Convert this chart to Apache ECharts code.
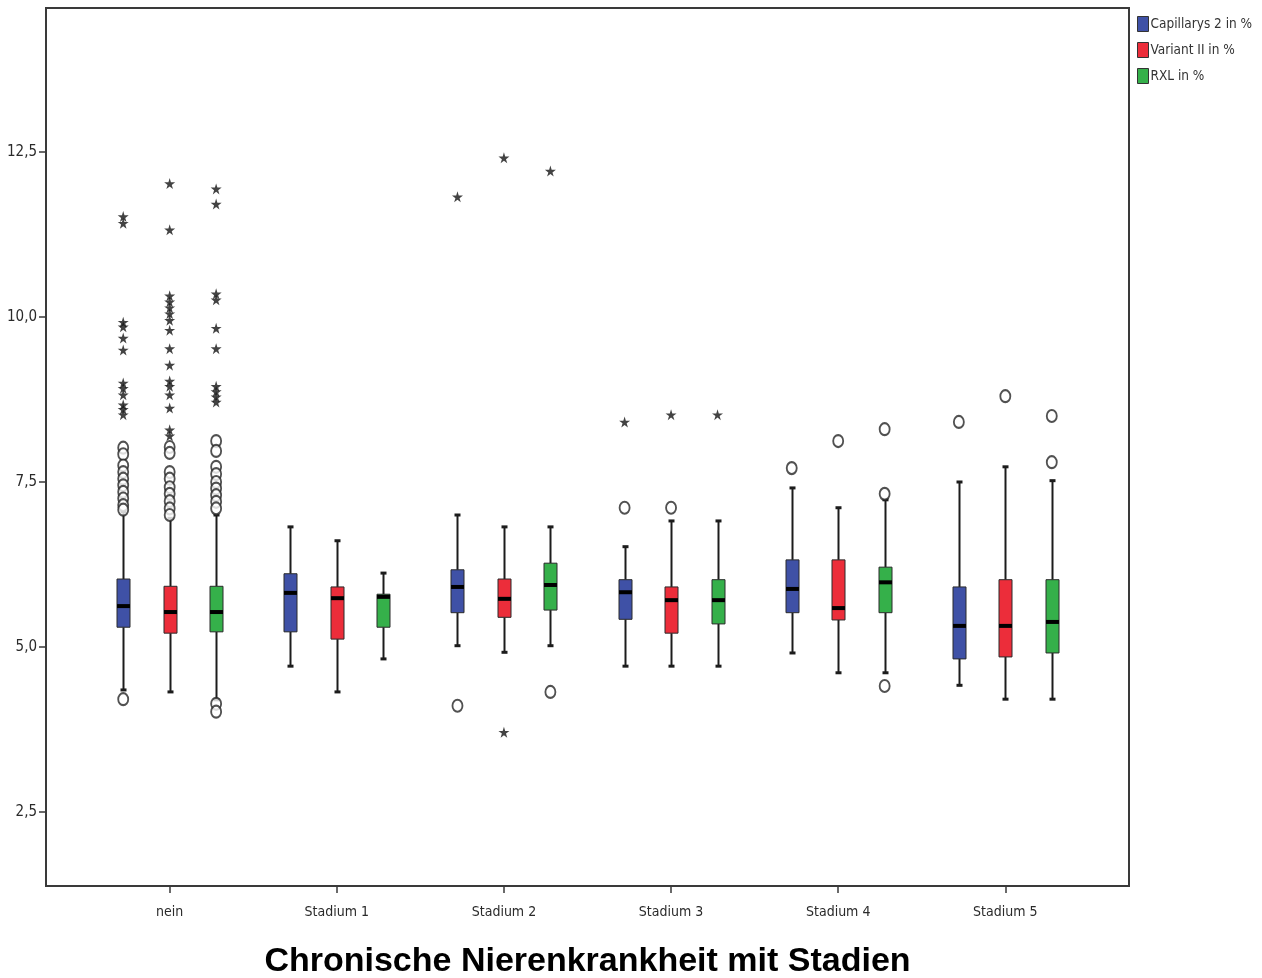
<!DOCTYPE html>
<html>
<head>
<meta charset="utf-8">
<style>
  html, body { margin: 0; padding: 0; background: #fff; }
  #chart { width: 1262px; height: 978px; }
</style>
<script src="https://cdn.jsdelivr.net/npm/echarts@6/dist/echarts.min.js"></script>
</head>
<body>
<div id="chart"></div>
<script>
// Kategorien der x-Achse
const categories = ['nein', 'Stadium 1', 'Stadium 2', 'Stadium 3', 'Stadium 4', 'Stadium 5'];
const seriesNames = ['Capillarys 2 in %', 'Variant II in %', 'RXL in %'];
const yTicks = [2.5, 5.0, 7.5, 10.0, 12.5];

// Boxplot-Kennwerte je Kategorie: [Minimum, Q1, Median, Q3, Maximum]
const capillarys = [
  [4.35, 5.30, 5.62, 6.03, 7.05],
  [4.71, 5.23, 5.82, 6.11, 6.82],
  [5.02, 5.52, 5.91, 6.17, 7.00],
  [4.71, 5.42, 5.83, 6.02, 6.52],
  [4.91, 5.52, 5.88, 6.32, 7.41],
  [4.42, 4.82, 5.32, 5.91, 7.50]
];
const variant = [
  [4.32, 5.21, 5.53, 5.92, 6.95],
  [4.32, 5.12, 5.74, 5.91, 6.61],
  [4.92, 5.45, 5.73, 6.03, 6.82],
  [4.71, 5.21, 5.71, 5.91, 6.91],
  [4.61, 5.41, 5.59, 6.32, 7.11],
  [4.21, 4.85, 5.32, 6.02, 7.73]
];
const rxl = [
  [4.20, 5.23, 5.53, 5.92, 7.00],
  [4.82, 5.30, 5.76, 5.80, 6.12],
  [5.02, 5.56, 5.94, 6.27, 6.82],
  [4.71, 5.35, 5.71, 6.02, 6.91],
  [4.61, 5.52, 5.98, 6.21, 7.23],
  [4.21, 4.91, 5.38, 6.02, 7.52]
];

// Ausreißer (Kreise): [Kategorieindex, Wert]
const capillarysOutliers = [
  [0, 8.02], [0, 7.92], [0, 7.75], [0, 7.65], [0, 7.55], [0, 7.45], [0, 7.35], [0, 7.25], [0, 7.15], [0, 7.08], [0, 4.21],
  [2, 4.11], [3, 7.11], [4, 7.71], [5, 8.41]
];
const variantOutliers = [
  [0, 8.03], [0, 7.94], [0, 7.65], [0, 7.55], [0, 7.42], [0, 7.32], [0, 7.21], [0, 7.10], [0, 7.00],
  [3, 7.11], [4, 8.12], [5, 8.80]
];
const rxlOutliers = [
  [0, 8.12], [0, 7.97], [0, 7.73], [0, 7.62], [0, 7.50], [0, 7.40], [0, 7.30], [0, 7.20], [0, 7.10], [0, 4.14], [0, 4.02],
  [2, 4.32], [4, 8.30], [4, 7.32], [4, 4.41], [5, 8.50], [5, 7.80]
];

// Extremwerte (Sterne): [Kategorieindex, Wert]
const capillarysExtremes = [
  [0, 11.52], [0, 11.42], [0, 9.92], [0, 9.85], [0, 9.68], [0, 9.50], [0, 9.00], [0, 8.92], [0, 8.82], [0, 8.67], [0, 8.60], [0, 8.52],
  [2, 11.82], [3, 8.41]
];
const variantExtremes = [
  [0, 12.02], [0, 11.32], [0, 10.32], [0, 10.23], [0, 10.14], [0, 10.05], [0, 9.95], [0, 9.80], [0, 9.52], [0, 9.27], [0, 9.03], [0, 8.95], [0, 8.82], [0, 8.62], [0, 8.29], [0, 8.20],
  [2, 12.41], [2, 3.71], [3, 8.52]
];
const rxlExtremes = [
  [0, 11.94], [0, 11.71], [0, 10.35], [0, 10.26], [0, 9.83], [0, 9.52], [0, 8.95], [0, 8.87], [0, 8.79], [0, 8.71],
  [2, 12.21], [3, 8.52]
];

// Darstellung
const colors = ['#3f51a6', '#ec2d3a', '#35b04a'];
const groupOffsets = [-0.278, 0, 0.278];
const BOX_HALF = 6.5;
const CAP_HALF = 3;
const narrowFont = '"Liberation Sans Narrow", "DejaVu Sans Condensed", "Arial Narrow", sans-serif';

const boxStats = [capillarys, variant, rxl];
const outlierSets = [capillarysOutliers, variantOutliers, rxlOutliers];
const extremeSets = [capillarysExtremes, variantExtremes, rxlExtremes];

function boxData(stats, offset) {
  return stats.map((s, i) => [i + offset].concat(s));
}
function pointData(points, offset) {
  return points.map(p => [p[0] + offset, p[1]]);
}

function renderBox(color) {
  return function (params, api) {
    const x = api.value(0);
    const pMin = api.coord([x, api.value(1)]);
    const pQ1 = api.coord([x, api.value(2)]);
    const pMed = api.coord([x, api.value(3)]);
    const pQ3 = api.coord([x, api.value(4)]);
    const pMax = api.coord([x, api.value(5)]);
    const cx = Math.round(pMin[0]) + 0.5;
    const line = { stroke: '#1c1c1c', lineWidth: 2 };
    return {
      type: 'group',
      children: [
        { type: 'line', shape: { x1: cx, y1: pMax[1], x2: cx, y2: pQ3[1] }, style: line },
        { type: 'line', shape: { x1: cx, y1: pQ1[1], x2: cx, y2: pMin[1] }, style: line },
        { type: 'line', shape: { x1: cx - CAP_HALF, y1: pMax[1], x2: cx + CAP_HALF, y2: pMax[1] }, style: { stroke: '#1c1c1c', lineWidth: 3 } },
        { type: 'line', shape: { x1: cx - CAP_HALF, y1: pMin[1], x2: cx + CAP_HALF, y2: pMin[1] }, style: { stroke: '#1c1c1c', lineWidth: 3 } },
        { type: 'rect', shape: { x: cx - BOX_HALF, y: pQ3[1], width: BOX_HALF * 2, height: pQ1[1] - pQ3[1] },
          style: { fill: color, stroke: '#2a2a2a', lineWidth: 1 } },
        { type: 'line', shape: { x1: cx - BOX_HALF, y1: pMed[1], x2: cx + BOX_HALF, y2: pMed[1] }, style: { stroke: '#000', lineWidth: 4 } }
      ]
    };
  };
}

const starPath = 'path://M50,0 L61,35 L98,35 L68,57 L79,91 L50,70 L21,91 L32,57 L2,35 L39,35 Z';

const series = [];
seriesNames.forEach((name, k) => {
  series.push({
    name: name,
    type: 'custom',
    renderItem: renderBox(colors[k]),
    itemStyle: { color: colors[k] },
    encode: { x: 0, y: [1, 2, 3, 4, 5] },
    data: boxData(boxStats[k], groupOffsets[k]),
    z: 2
  });
});
seriesNames.forEach((name, k) => {
  series.push({
    name: 'Ausreißer ' + name,
    type: 'scatter',
    symbol: 'emptyCircle',
    symbolSize: [10, 12],
    itemStyle: { color: '#262626', borderColor: '#262626', borderWidth: 2.2 },
    data: pointData(outlierSets[k], groupOffsets[k]),
    silent: true,
    z: 3
  });
  series.push({
    name: 'Extremwerte ' + name,
    type: 'scatter',
    symbol: starPath,
    symbolSize: 11,
    itemStyle: { color: '#141414' },
    data: pointData(extremeSets[k], groupOffsets[k]),
    silent: true,
    z: 3
  });
});

const chart = echarts.init(document.getElementById('chart'), null, { renderer: 'canvas' });
chart.setOption({
  animation: false,
  backgroundColor: '#fff',
  grid: {
    left: 46, right: 133, top: 8, bottom: 92,
    outerBoundsMode: 'none',
    containLabel: false,
    show: true, borderColor: '#3a3a3a', borderWidth: 2, backgroundColor: 'transparent'
  },
  legend: {
    data: seriesNames,
    orient: 'vertical',
    left: 1132, top: 11,
    icon: 'rect',
    itemWidth: 11, itemHeight: 15, itemGap: 10,
    itemStyle: { borderColor: '#333', borderWidth: 1 },
    textStyle: { fontFamily: narrowFont, fontSize: 13.5, color: '#333', padding: [0, 0, 0, -3] }
  },
  xAxis: {
    type: 'value',
    min: -0.74, max: 5.74,
    splitLine: { show: false },
    axisLine: { show: true, onZero: false, lineStyle: { color: '#3a3a3a', width: 2 } },
    axisTick: { show: true, customValues: [0, 1, 2, 3, 4, 5], length: 7, lineStyle: { color: '#3a3a3a', width: 1.5 } },
    axisLabel: {
      customValues: [0, 1, 2, 3, 4, 5],
      formatter: v => categories[Math.round(v)],
      margin: 19,
      fontFamily: narrowFont, fontSize: 14, color: '#2a2a2a'
    },
    name: 'Chronische Nierenkrankheit mit Stadien',
    nameLocation: 'middle',
    nameGap: 59,
    nameTextStyle: { fontFamily: '"Liberation Sans", Arial, sans-serif', fontWeight: 'bold', fontSize: 34, color: '#000' }
  },
  yAxis: {
    type: 'value',
    min: 1.38, max: 14.68,
    splitLine: { show: false },
    axisLine: { show: true, onZero: false, lineStyle: { color: '#3a3a3a', width: 2 } },
    axisTick: { show: true, customValues: yTicks, length: 7, lineStyle: { color: '#3a3a3a', width: 1.5 } },
    axisLabel: {
      customValues: yTicks,
      formatter: v => v.toFixed(1).replace('.', ','),
      margin: 9,
      fontFamily: narrowFont, fontSize: 15, color: '#2a2a2a'
    }
  },
  series: series
});
</script>
</body>
</html>
